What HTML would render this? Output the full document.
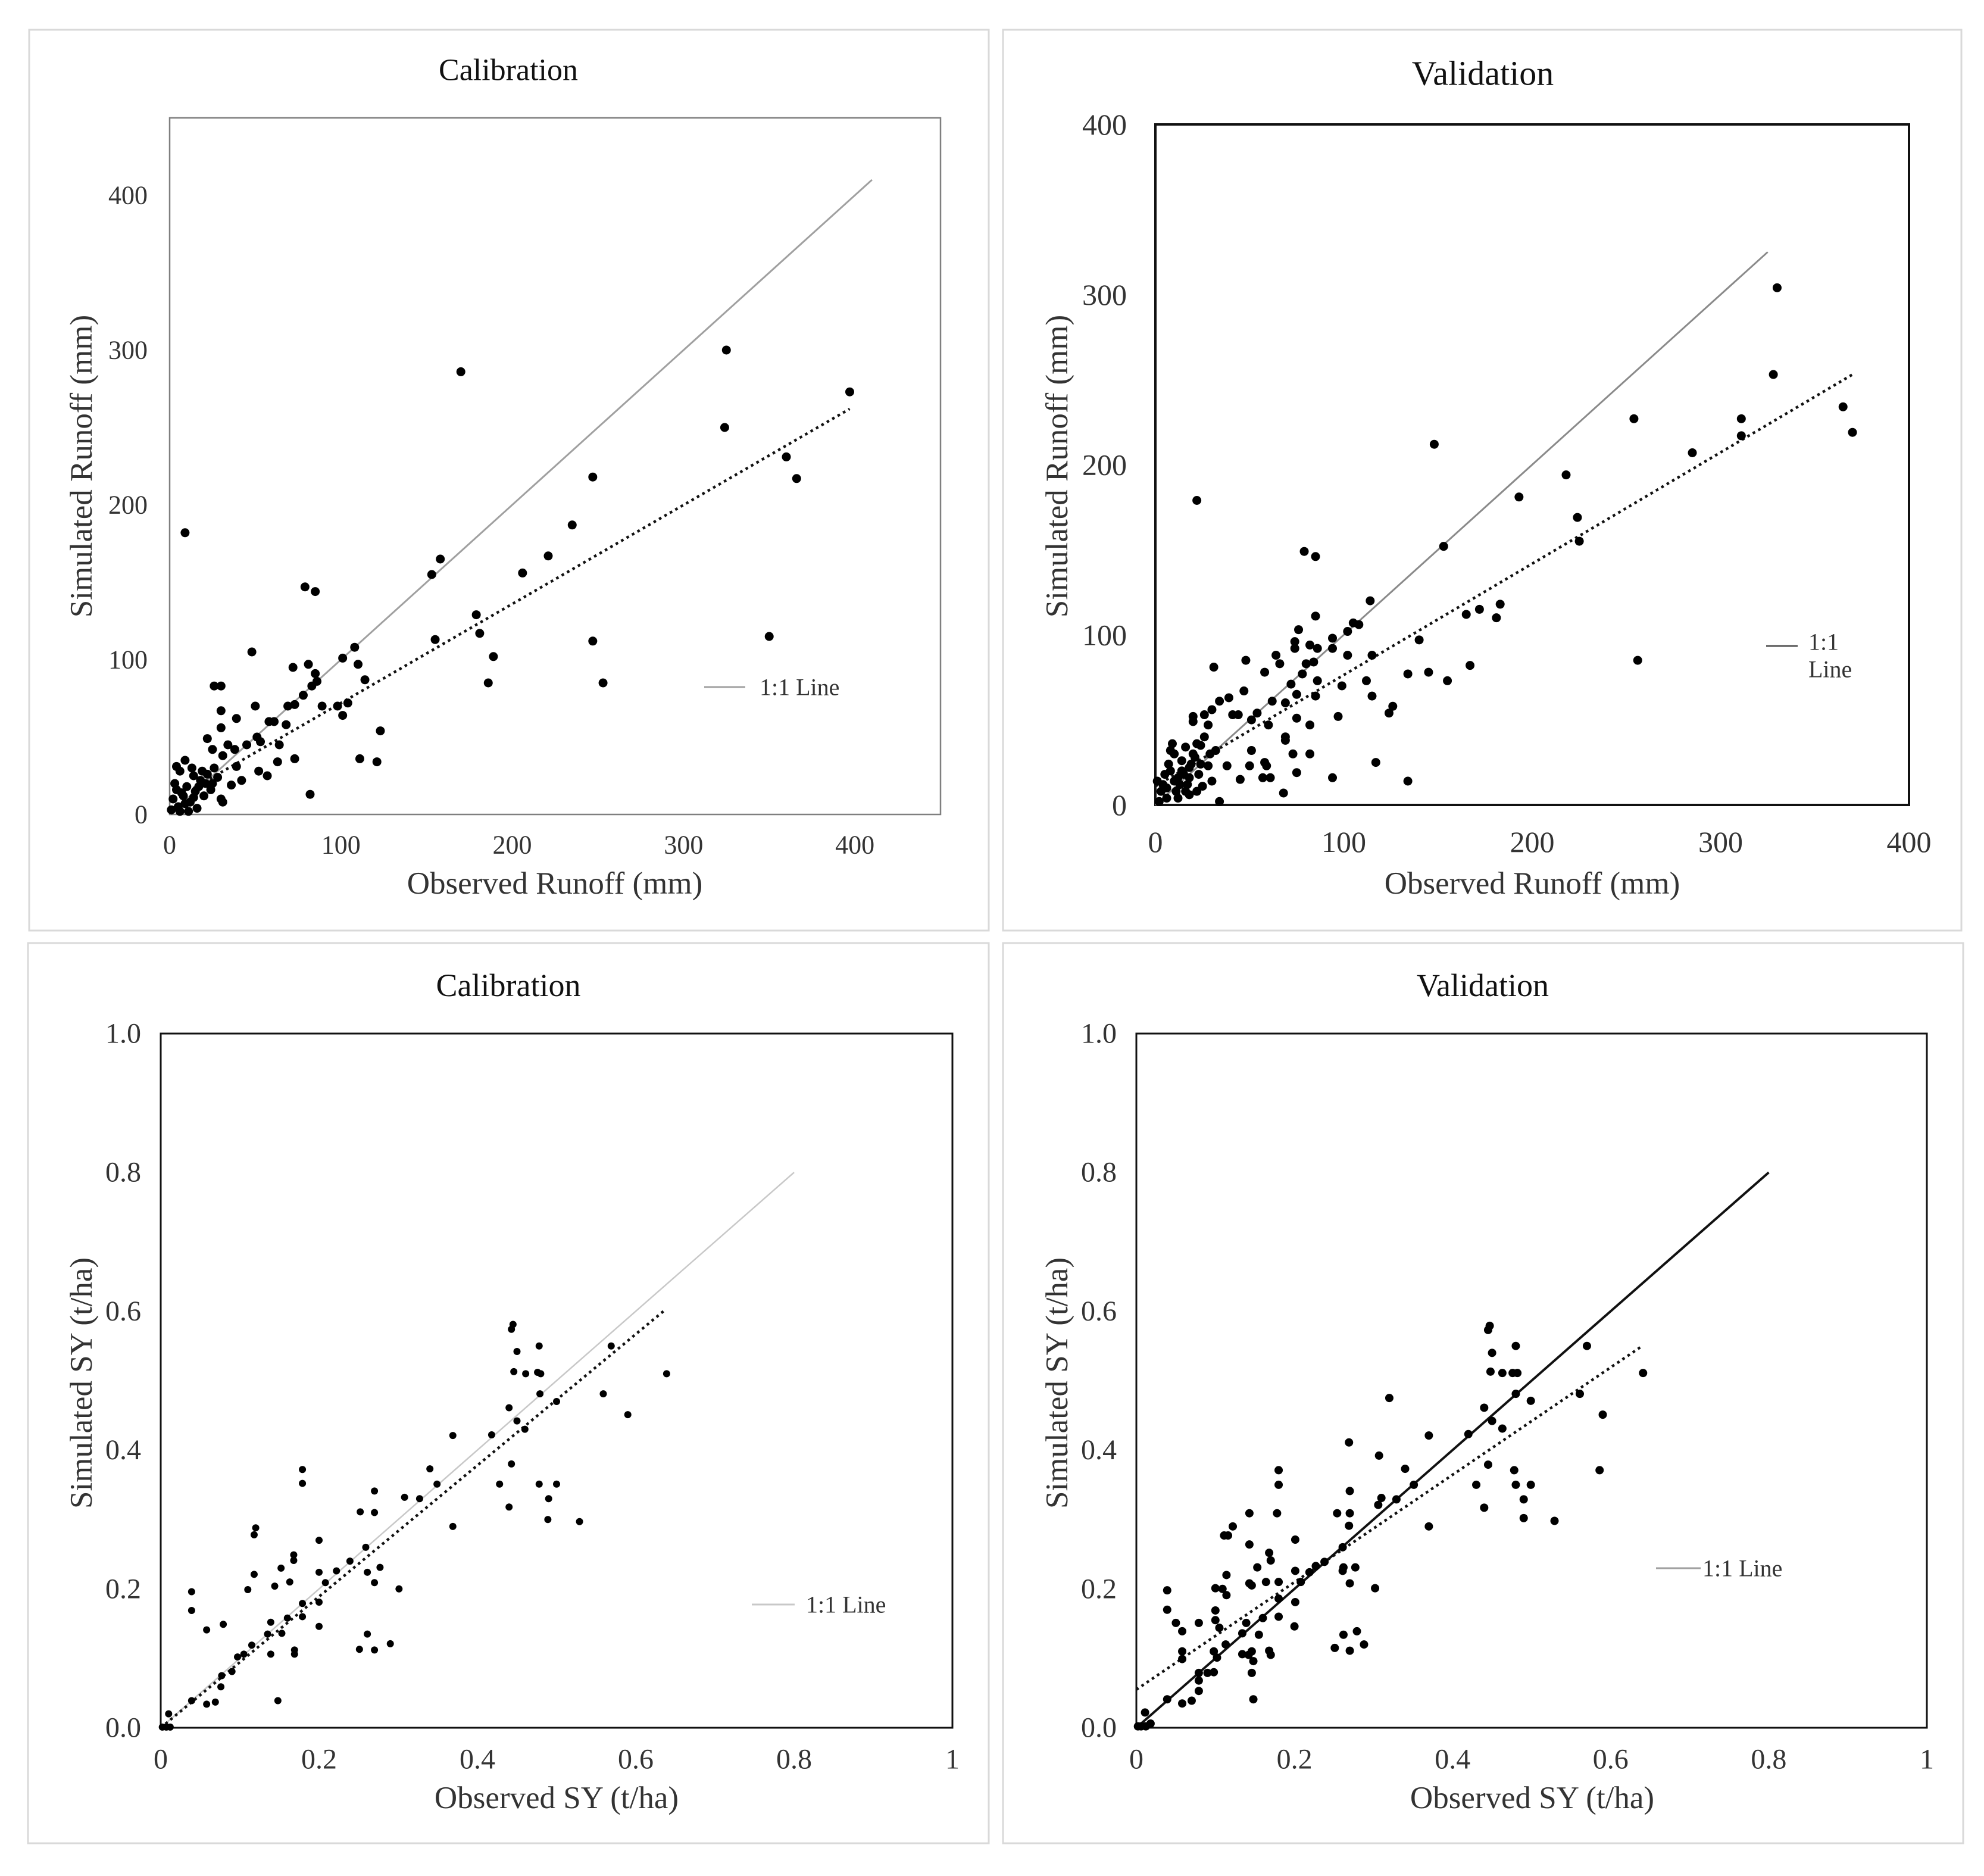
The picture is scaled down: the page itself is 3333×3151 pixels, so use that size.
<!DOCTYPE html>
<html><head><meta charset="utf-8"><title>Calibration and validation scatter plots</title>
<style>
html,body{margin:0;padding:0;background:#fff;}
svg{display:block;}
text{font-family:"Liberation Serif",serif;}
</style></head>
<body>
<svg id="fig" width="3333" height="3151" viewBox="0 0 3333 3151" xmlns="http://www.w3.org/2000/svg"></svg>
<script>
// ---- Panel 1: Calibration runoff ----
const p1ObsX = [9,170,325,324,397,360,366,247,235,221,206,158,153,155,179,181,189,186,247,253,350,79,85,48,108,101,110,81,72,85,83,86,114,78,73,69,89,98,104,101,68,58,61,64,50,51,53,45,39,38,30,26,30,30,22,31,34,25,39,42,36,52,57,63,73,82,111,121,123,30,31,9,4,5,8,10,12,15,3,6,14,18,20,22,25,16,11,7,2,13,17,19,24,26,28,1,9,21,14,4,6];
const p1SimY = [182,286,300,250,273,231,217,218,187,167,156,165,155,113,129,117,102,85,112,85,115,147,144,105,108,101,97,97,95,91,83,86,87,77,71,70,70,70,72,64,58,60,60,45,70,50,47,45,62,42,67,83,83,56,49,38,45,42,31,22,19,28,25,34,36,13,36,34,54,10,8,35,31,5,12,18,8,15,20,28,25,22,12,26,20,4,2,14,10,30,18,28,16,30,24,3,7,20,11,16,2];
// ---- Panel 2: Validation runoff ----
const p2ObsX = [330,328,311,311,365,370,254,285,218,224,225,193,148,153,22,79,85,114,183,172,165,181,256,167,140,145,134,155,115,112,115,126,124,117,134,105,108,102,94,94,102,99,97,94,85,86,82,76,74,74,78,80,84,86,85,72,75,69,82,75,69,69,73,75,82,68,64,66,58,62,60,58,59,57,61,48,47,41,44,39,34,31,51,51,54,50,45,38,34,30,28,30,26,20,20,28,26,24,32,29,25,22,18,2,4,6,8,10,12,14,16,18,20,9,5,11,13,15,17,19,21,23,3,7,1,12,16,24,10,22,6,14,18,8];
const p2SimY = [304,253,227,217,234,219,227,207,194,169,155,181,212,152,179,149,146,120,118,115,112,110,85,82,97,78,77,73,88,73,64,58,54,25,14,107,106,102,98,92,88,70,52,16,111,92,94,103,96,92,77,83,84,73,64,71,65,60,47,51,40,38,30,19,30,7,88,83,78,61,47,25,23,16,16,85,67,53,53,63,61,81,50,32,54,23,15,23,2,14,23,56,53,52,49,47,40,35,32,30,11,8,6,2,12,10,20,30,16,26,34,22,30,36,18,8,12,18,12,24,28,18,8,24,14,4,8,24,14,36,4,20,16,32];
// ---- Panel 3: Calibration SY ----
const p3ObsX = [0.445,0.443,0.478,0.569,0.450,0.446,0.461,0.476,0.480,0.639,0.479,0.559,0.500,0.440,0.590,0.450,0.460,0.369,0.418,0.443,0.340,0.349,0.428,0.478,0.500,0.490,0.308,0.327,0.440,0.489,0.529,0.369,0.179,0.179,0.270,0.252,0.270,0.120,0.118,0.200,0.259,0.168,0.168,0.152,0.239,0.222,0.200,0.261,0.277,0.118,0.163,0.144,0.208,0.270,0.110,0.301,0.039,0.039,0.179,0.200,0.179,0.160,0.139,0.079,0.058,0.200,0.153,0.135,0.261,0.115,0.290,0.139,0.169,0.169,0.251,0.270,0.097,0.105,0.077,0.090,0.076,0.039,0.058,0.069,0.148,0.010,0.002,0.007,0.012];
const p3SimY = [0.581,0.574,0.550,0.550,0.542,0.513,0.510,0.512,0.510,0.510,0.481,0.481,0.470,0.461,0.451,0.442,0.430,0.421,0.422,0.380,0.373,0.351,0.351,0.351,0.351,0.330,0.332,0.330,0.318,0.300,0.297,0.290,0.372,0.352,0.341,0.311,0.310,0.288,0.278,0.270,0.260,0.249,0.241,0.230,0.240,0.226,0.224,0.224,0.231,0.221,0.210,0.204,0.209,0.209,0.199,0.200,0.196,0.169,0.179,0.181,0.160,0.158,0.152,0.149,0.141,0.146,0.136,0.135,0.135,0.119,0.121,0.106,0.112,0.106,0.113,0.112,0.102,0.106,0.075,0.081,0.059,0.039,0.034,0.037,0.039,0.020,0.001,0.001,0.001];
// ---- Panel 4: Validation SY ----
const p4ObsX = [0.447,0.445,0.480,0.570,0.450,0.448,0.463,0.476,0.482,0.641,0.480,0.561,0.499,0.440,0.590,0.450,0.463,0.320,0.420,0.370,0.269,0.307,0.445,0.478,0.586,0.340,0.180,0.180,0.351,0.430,0.480,0.499,0.270,0.310,0.329,0.490,0.306,0.440,0.143,0.178,0.254,0.270,0.490,0.529,0.370,0.269,0.122,0.116,0.111,0.201,0.143,0.261,0.168,0.170,0.238,0.227,0.219,0.153,0.262,0.277,0.201,0.261,0.114,0.164,0.180,0.143,0.146,0.208,0.270,0.100,0.109,0.302,0.039,0.114,0.180,0.201,0.180,0.160,0.139,0.200,0.039,0.050,0.058,0.079,0.100,0.100,0.105,0.155,0.134,0.262,0.279,0.288,0.113,0.058,0.058,0.146,0.134,0.142,0.168,0.170,0.251,0.270,0.098,0.102,0.148,0.146,0.079,0.090,0.098,0.079,0.079,0.039,0.058,0.070,0.148,0.011,0.002,0.006,0.012,0.018];
const p4SimY = [0.579,0.573,0.550,0.550,0.540,0.513,0.511,0.511,0.511,0.511,0.481,0.481,0.471,0.461,0.451,0.442,0.431,0.475,0.423,0.421,0.411,0.392,0.379,0.371,0.371,0.373,0.371,0.350,0.350,0.350,0.350,0.350,0.341,0.331,0.329,0.329,0.321,0.317,0.309,0.309,0.309,0.309,0.302,0.298,0.290,0.291,0.290,0.277,0.277,0.271,0.264,0.260,0.252,0.241,0.239,0.233,0.224,0.231,0.231,0.231,0.226,0.226,0.220,0.210,0.210,0.208,0.205,0.210,0.208,0.201,0.200,0.201,0.198,0.191,0.186,0.181,0.160,0.158,0.151,0.146,0.170,0.151,0.139,0.151,0.169,0.155,0.144,0.134,0.136,0.134,0.139,0.120,0.120,0.110,0.099,0.110,0.106,0.105,0.111,0.105,0.115,0.111,0.110,0.101,0.096,0.079,0.079,0.079,0.080,0.068,0.053,0.041,0.035,0.039,0.041,0.022,0.002,0.002,0.002,0.006];
// tick labels
const runoffTicks1 = [0,100,200,300,400];
const runoffTicks2 = [0,100,200,300,400];
const syYTicks = ["0.0","0.2","0.4","0.6","0.8","1.0"];
const syXTicks = ["0","0.2","0.4","0.6","0.8","1"];
// reference/trend line endpoints (data units)
const p1OneToOne = [0,410];
const p1Trend = [[14,17],[397,262]];
const p2OneToOne = [0,325];
const p2Trend = [[0,11],[370,253]];
const p3OneToOne = [0,0.8];
const p3Trend = [[0,0],[0.635,0.6]];
const p4OneToOne = [0,0.8];
const p4Trend = [[0,0.055],[0.64,0.55]];

const NS = "http://www.w3.org/2000/svg";
const svg = document.getElementById('fig');
function mk(tag, attrs, parent){
  const e = document.createElementNS(NS, tag);
  for (const k in attrs) e.setAttribute(k, attrs[k]);
  (parent||svg).appendChild(e);
  return e;
}
function txt(s, attrs, parent){ const t = mk('text', attrs, parent); t.textContent = s; return t; }

function panel(cfg){
  const g = mk('g', {});
  
  
  const fr = mk('rect', {x:cfg.frame[0], y:cfg.frame[1], width:cfg.frame[2]-cfg.frame[0], height:cfg.frame[3]-cfg.frame[1], fill:'#fff', stroke:'#d9d9d9', 'stroke-width':3}, g);
  
  
  const [L,T,R,B] = cfg.plot;
  const sx = v => L + (v - cfg.xmin)/(cfg.xmax - cfg.xmin)*(R-L);
  const sy = v => B - (v - cfg.ymin)/(cfg.ymax - cfg.ymin)*(B-T);
  const pa = mk('rect', {x:L, y:T, width:R-L, height:B-T, fill:'none', stroke:cfg.plotStroke, 'stroke-width':cfg.plotW}, g);
  
  
  const ti = txt(cfg.title, {x:cfg.titlePos[0], y:cfg.titlePos[1], 'font-size':cfg.titleSize, 'text-anchor':'middle', 'dominant-baseline':'central', fill:'#111'}, g);
  
  
  cfg.yTicks.forEach((lab, i) => {
    const v = cfg.yTickVals[i];
    const t = txt(String(lab), {x:cfg.yLabX, y:sy(v), 'font-size':cfg.tickSize, 'text-anchor':'end', 'dominant-baseline':'central', fill:'#333'}, g);
    
    
  });
  cfg.xTicks.forEach((lab, i) => {
    const v = cfg.xTickVals[i];
    const t = txt(String(lab), {x:sx(v), y:cfg.xLabY, 'font-size':cfg.tickSize, 'text-anchor':'middle', 'dominant-baseline':'central', fill:'#333'}, g);
    
    
  });
  const xt = txt(cfg.xTitle, {x:cfg.xTitlePos[0], y:cfg.xTitlePos[1], 'font-size':cfg.axTitleSize, 'text-anchor':'middle', 'dominant-baseline':'central', fill:'#333'}, g);
  
  
  const yt = txt(cfg.yTitle, {x:0, y:0, 'font-size':cfg.axTitleSize, 'text-anchor':'middle', 'dominant-baseline':'central', fill:'#333', transform:`translate(${cfg.yTitlePos[0]},${cfg.yTitlePos[1]}) rotate(-90)`}, g);
  
  
  const one = mk('line', {x1:sx(cfg.one[0]), y1:sy(cfg.one[0]), x2:sx(cfg.one[1]), y2:sy(cfg.one[1]), stroke:cfg.oneColor, 'stroke-width':cfg.oneW}, g);
  
  
  const tr = mk('line', {x1:sx(cfg.trend[0][0]), y1:sy(cfg.trend[0][1]), x2:sx(cfg.trend[1][0]), y2:sy(cfg.trend[1][1]), stroke:'#111', 'stroke-width':4.5, 'stroke-dasharray':'4.5 6'}, g);
  
  
  cfg.xs.forEach((xv, i) => {
    const c = mk('circle', {cx:sx(xv), cy:sy(cfg.ys[i]), r:cfg.r, fill:'#000'}, g);
    
    
  });
  const lg = mk('g', {}, g);
  
  
  mk('line', {x1:cfg.leg.x1, x2:cfg.leg.x2, y1:cfg.leg.y, y2:cfg.leg.y, stroke:cfg.leg.color, 'stroke-width':3}, lg);
  cfg.leg.lines.forEach((s, i) => {
    txt(s, {x:cfg.leg.tx, y:cfg.leg.ty + i*46, 'font-size':cfg.leg.size, 'dominant-baseline':'central', fill:'#333'}, lg);
  });
}

panel({name:'runoff-calibration-chart', frame:[49,50,1661,1563], plot:[285,198,1580,1368], xmin:0,xmax:450,ymin:0,ymax:450,
  plotStroke:'#7f7f7f', plotW:2.5, title:'Calibration', titlePos:[854,118], titleSize:52,
  yTicks:runoffTicks1, yTickVals:runoffTicks1, xTicks:runoffTicks1, xTickVals:runoffTicks1, yLabX:248, xLabY:1419, tickSize:44,
  xTitle:'Observed Runoff (mm)', xTitlePos:[932,1484], yTitle:'Simulated Runoff (mm)', yTitlePos:[137,783], axTitleSize:53,
  one:p1OneToOne, oneColor:'#a0a0a0', oneW:3, trend:p1Trend, xs:p1ObsX, ys:p1SimY, r:7.5,
  leg:{x1:1183,x2:1252,y:1154,tx:1276,ty:1154,lines:['1:1 Line'],size:40,color:'#a0a0a0'}});

panel({name:'runoff-validation-chart', frame:[1685,50,3295,1563], plot:[1941,209,3207,1352], xmin:0,xmax:400,ymin:0,ymax:400,
  plotStroke:'#111', plotW:4, title:'Validation', titlePos:[2491,123], titleSize:58,
  yTicks:runoffTicks2, yTickVals:runoffTicks2, xTicks:runoffTicks2, xTickVals:runoffTicks2, yLabX:1893, xLabY:1414, tickSize:50,
  xTitle:'Observed Runoff (mm)', xTitlePos:[2574,1484], yTitle:'Simulated Runoff (mm)', yTitlePos:[1776,783], axTitleSize:53,
  one:p2OneToOne, oneColor:'#8a8a8a', oneW:3, trend:p2Trend, xs:p2ObsX, ys:p2SimY, r:7.5,
  leg:{x1:2967,x2:3020,y:1085,tx:3038,ty:1078,lines:['1:1','Line'],size:40,color:'#555'}});

panel({name:'sy-calibration-chart', frame:[47,1584,1661,3096], plot:[270,1736,1600,2902], xmin:0,xmax:1,ymin:0,ymax:1,
  plotStroke:'#111', plotW:3, title:'Calibration', titlePos:[854,1655], titleSize:54,
  yTicks:syYTicks, yTickVals:[0,0.2,0.4,0.6,0.8,1], xTicks:syXTicks, xTickVals:[0,0.2,0.4,0.6,0.8,1], yLabX:237, xLabY:2955, tickSize:48,
  xTitle:'Observed SY (t/ha)', xTitlePos:[935,3020], yTitle:'Simulated SY (t/ha)', yTitlePos:[137,2323], axTitleSize:53,
  one:p3OneToOne, oneColor:'#c8c8c8', oneW:2.5, trend:p3Trend, xs:p3ObsX, ys:p3SimY, r:6,
  leg:{x1:1263,x2:1335,y:2695,tx:1354,ty:2695,lines:['1:1 Line'],size:40,color:'#c8c8c8'}});

panel({name:'sy-validation-chart', frame:[1685,1584,3298,3096], plot:[1909,1736,3237,2902], xmin:0,xmax:1,ymin:0,ymax:1,
  plotStroke:'#111', plotW:3, title:'Validation', titlePos:[2491,1655], titleSize:54,
  yTicks:syYTicks, yTickVals:[0,0.2,0.4,0.6,0.8,1], xTicks:syXTicks, xTickVals:[0,0.2,0.4,0.6,0.8,1], yLabX:1876, xLabY:2955, tickSize:48,
  xTitle:'Observed SY (t/ha)', xTitlePos:[2574,3020], yTitle:'Simulated SY (t/ha)', yTitlePos:[1776,2323], axTitleSize:53,
  one:p4OneToOne, oneColor:'#111', oneW:4, trend:p4Trend, xs:p4ObsX, ys:p4SimY, r:7,
  leg:{x1:2782,x2:2857,y:2634,tx:2860,ty:2634,lines:['1:1 Line'],size:40,color:'#a0a0a0'}});
</script>
</body></html>
